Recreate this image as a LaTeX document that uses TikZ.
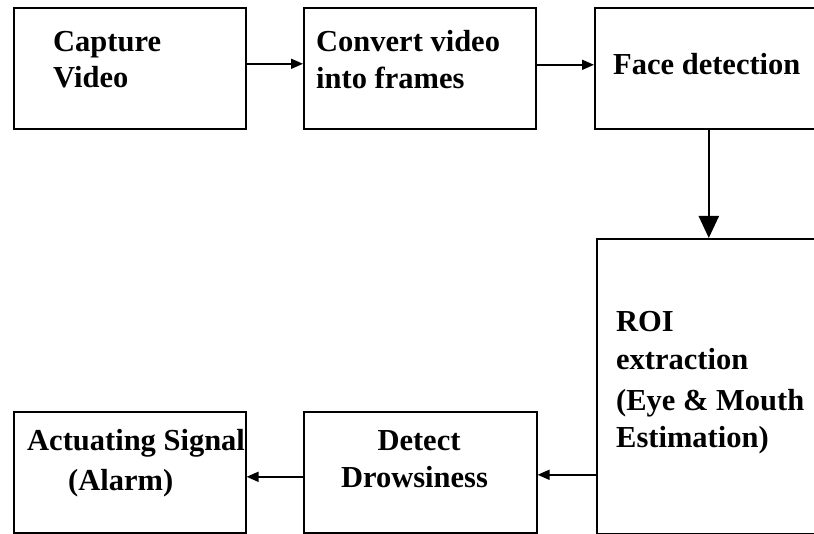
\documentclass[tikz,border=0pt]{standalone}
\usepackage{fontspec}
\setmainfont{Liberation Serif}
\usetikzlibrary{arrows.meta}
\begin{document}
\begin{tikzpicture}[x=1pt,y=-1pt,
  box/.style={draw=black,line width=1.6pt,rectangle,inner sep=0pt,anchor=north west},
  lbl/.style={inner sep=0pt,font=\fontsize{30.5}{36}\selectfont\bfseries},
  arr/.style={line width=1.8pt,-{Triangle[length=12pt,width=10pt]}},
  varr/.style={line width=2.2pt,-{Triangle[length=22pt,width=20pt]}}]
\useasboundingbox (0,0) rectangle (814,534);
\clip (0,0) rectangle (814,534);
\fill[white] (0,0) rectangle (814,534);
% boxes
\node[box,minimum width=232pt,minimum height=121pt] (b1) at (13,7) {};
\node[box,minimum width=232pt,minimum height=121pt] (b2) at (303,7) {};
\node[box,minimum width=230pt,minimum height=121pt] (b3) at (594,7) {};
\node[box,minimum width=230pt,minimum height=295pt] (b4) at (596,238) {};
\node[box,minimum width=233pt,minimum height=121pt] (b5) at (303,411) {};
\node[box,minimum width=232pt,minimum height=121pt] (b6) at (13,411) {};
% labels
\node[lbl,anchor=base west] (t1a) at (53,52) {Capture};
\node[lbl,anchor=base west] (t1b) at (53,88) {Video};
\node[lbl,anchor=base west] (t2a) at (316,52) {Convert video};
\node[lbl,anchor=base west] (t2b) at (316,89) {into frames};
\node[lbl,anchor=base west] (t3a) at (613,75) {Face detection};
\node[lbl,anchor=base west] (t4a) at (616,332) {ROI};
\node[lbl,anchor=base west] (t4b) at (616,370) {extraction};
\node[lbl,anchor=base west] (t4c) at (616,410) {(Eye \& Mouth};
\node[lbl,anchor=base west] (t4d) at (616,447) {Estimation)};
\node[lbl,anchor=base] (t5a) at (419,450) {Detect};
\node[lbl,anchor=base] (t5b) at (414.5,487) {Drowsiness};
\node[lbl,anchor=base west] (t6a) at (27,450) {Actuating Signal};
\node[lbl,anchor=base west] (t6b) at (68,490) {(Alarm)};
% connectors
\draw[arr] ([yshift=4.5pt]b1.east) -- ([yshift=4.5pt]b2.west);
\draw[arr] ([yshift=3.5pt]b2.east) -- ([yshift=3.5pt]b3.west);
\draw[varr] ([xshift=-1pt]b3.south) -- ([xshift=-1pt]b3.south |- b4.north);
\draw[arr] ([yshift=-2.5pt]b4.west |- b5.east) -- ([yshift=-2.5pt]b5.east);
\draw[arr] ([yshift=-4.5pt]b5.west) -- ([yshift=-4.5pt]b6.east);
\end{tikzpicture}
\end{document}
